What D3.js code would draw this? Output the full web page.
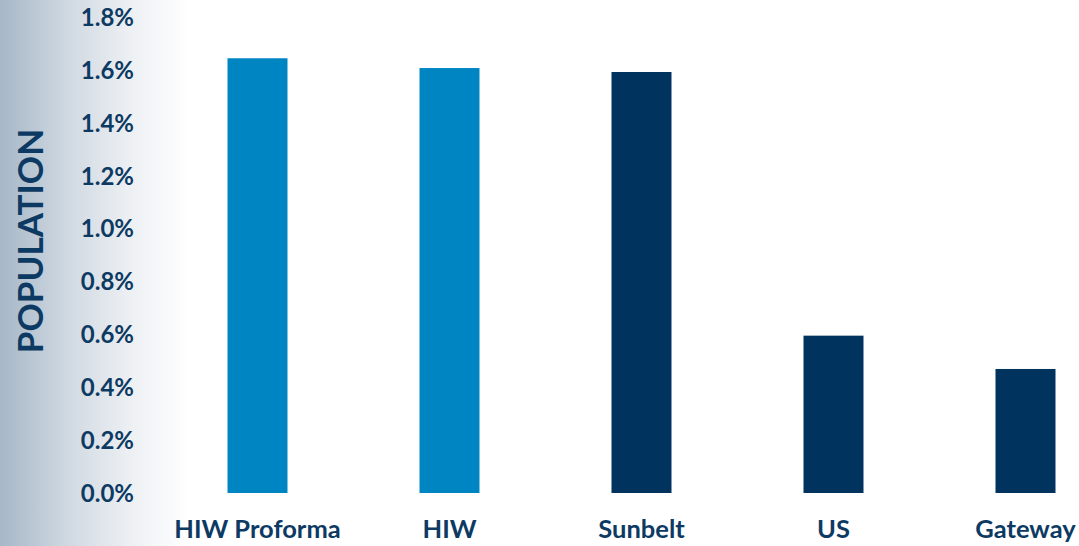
<html>
<head>
<style>
  body { margin: 0; background: #fff; }
  svg { display: block; }
  text { font-family: Lato, "Open Sans", sans-serif; font-weight: 700; fill: #0d3a63; }
</style>
</head>
<body>
<div id="chart"></div>
<script src="https://d3js.org/d3.v7.min.js"></script>
<script>
  // data (percent)
  var categories = ["HIW Proforma", "HIW", "Sunbelt", "US", "Gateway"]
  var values = [1.644, 1.607, 1.592, 0.595, 0.469]
  var barColors = ["#0085c3", "#0085c3", "#00335e", "#00335e", "#00335e"]
  var tickValues = [0, 0.2, 0.4, 0.6, 0.8, 1.0, 1.2, 1.4, 1.6, 1.8]

  var width = 1079, height = 546

  var svg = d3.select("#chart").append("svg")
      .attr("width", width)
      .attr("height", height)

  // greyish blue fade on the left side
  var grad = svg.append("defs").append("linearGradient")
      .attr("id", "fade")
      .attr("x1", 0).attr("x2", 1).attr("y1", 0).attr("y2", 0)
  grad.append("stop").attr("offset", "0%").attr("stop-color", "#a6b7c7")
  grad.append("stop").attr("offset", "35%").attr("stop-color", "#cfd8e1")
  grad.append("stop").attr("offset", "70%").attr("stop-color", "#eef1f4")
  grad.append("stop").attr("offset", "100%").attr("stop-color", "#ffffff")

  svg.append("rect")
      .attr("x", 0).attr("y", 0)
      .attr("width", 190).attr("height", height)
      .attr("fill", "url(#fade)")

  var y = d3.scaleLinear()
      .domain([0, 1.8])
      .range([493, 17])

  var x = d3.scaleBand()
      .domain(categories)
      .range([161.5, 1121.5])
      .paddingInner(0.6875)
      .paddingOuter(0.34375)

  // y axis, labels only
  var yAxis = svg.append("g")
      .attr("transform", "translate(134,0)")
      .call(d3.axisLeft(y).tickValues(tickValues).tickSize(0).tickPadding(0)
        .tickFormat(function(d) { return d.toFixed(1) + "%" }))
  yAxis.select(".domain").remove()
  yAxis.selectAll("text")
      .attr("font-size", 24)
      .attr("font-family", null)
      .attr("fill", null)
      .attr("dy", "0.35em")

  // bars
  svg.selectAll(".bar")
    .data(values)
    .enter()
    .append("rect")
      .attr("class", "bar")
      .attr("x", function(d, i) { return x(categories[i]) })
      .attr("width", x.bandwidth())
      .attr("y", function(d) { return y(d) })
      .attr("height", function(d) { return y(0) - y(d) })
      .attr("fill", function(d, i) { return barColors[i] })

  // x axis, labels only
  var xAxis = svg.append("g")
      .attr("transform", "translate(0,493)")
      .call(d3.axisBottom(x).tickSize(0).tickPadding(0))
  xAxis.select(".domain").remove()
  xAxis.selectAll("text")
      .attr("font-size", 25.5)
      .attr("font-family", null)
      .attr("fill", null)
      .attr("dy", null)
      .attr("y", 45)

  // rotated axis title
  svg.append("text")
      .attr("transform", "translate(43,241) rotate(-90)")
      .attr("text-anchor", "middle")
      .attr("font-size", 35)
      .text("POPULATION")
</script>
</body>
</html>
